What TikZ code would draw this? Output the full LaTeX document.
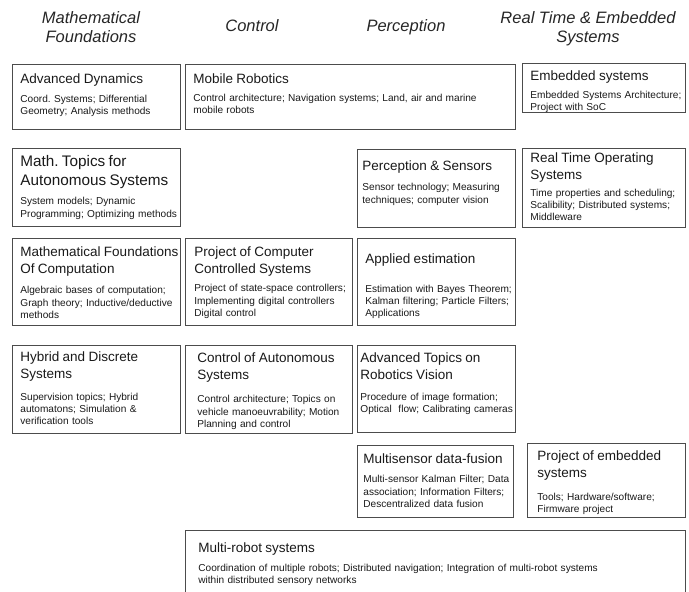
\documentclass[tikz,border=0pt]{standalone}
\usepackage{fontspec}
\setmainfont{Liberation Sans}
\usetikzlibrary{positioning}
\frenchspacing

\newcommand{\ttl}{\fontsize{13.5}{17}\selectfont}
\newcommand{\bigttl}{\fontsize{15.3}{19}\selectfont}
\newcommand{\bdy}{\fontsize{10.1}{12.3}\selectfont}
% \course[pad]{title}{gap}{body}
\newcommand{\course}[4][8pt]{\leftskip=#1\relax\rightskip=-20pt plus 1fil\relax
  {\ttl #2\par}\vspace{#3}{\bdy #4\par}}

\tikzset{
  course/.style={draw=black!70, line width=0.8pt, anchor=north west, inner sep=0pt, align=left, text=black!90},
  head/.style={font=\fontsize{16.5}{19.5}\selectfont\itshape, align=center, anchor=base, text=black!85},
}

\begin{document}
\begin{tikzpicture}[x=1pt, y=-1pt]
\useasboundingbox (0,0) rectangle (689,592);
\clip (0,0) rectangle (689,592);

% column headings
\node[head] (hmath) at (91,42.5) {Mathematical\\Foundations};
\node[head] (hctrl) at (252,31) {Control};
\node[head] (hperc) at (406,31) {Perception};
\node[head] (hrt) at (588,42.5) {Real Time \& Embedded\\Systems};

% first row
\node[course, text width=168pt, text height=19pt, text depth=46pt] (dyn) at (12,64)
  {\course{Advanced Dynamics}{6.5pt}{Coord. Systems; Differential\\Geometry; Analysis methods}};
\node[course, text width=330pt, text height=19.5pt, text depth=45.5pt] (mobile) at (185,64)
  {\course{Mobile Robotics}{5pt}{Control architecture; Navigation systems; Land, air and marine\\mobile robots}};
\node[course, text width=163pt, text height=17pt, text depth=32pt] (embed) at (522,63)
  {\course{Embedded systems}{5.5pt}{Embedded Systems Architecture;\\Project with SoC}};

% second row
\node[course, text width=168pt, text height=18pt, text depth=60pt] (mtopics) at (12,148)
  {\leftskip=8pt\rightskip=-20pt plus 1fil{\bigttl Math. Topics for\\Autonomous Systems\par}\vspace{7pt}{\bdy System models; Dynamic\\Programming; Optimizing methods\par}};
\node[course, text width=158pt, text height=21pt, text depth=57pt] (percep) at (357,149)
  {\course[5pt]{Perception \& Sensors}{8pt}{Sensor technology; Measuring\\techniques; computer vision}};
\node[course, text width=163pt, text height=14pt, text depth=65pt] (rtos) at (522,148)
  {\course{Real Time Operating\\Systems}{4.5pt}{Time properties and scheduling;\\Scalibility; Distributed systems;\\Middleware}};

% third row
\node[course, text width=168pt, text height=18pt, text depth=69pt] (mfc) at (12,238)
  {\course{Mathematical Foundations\\Of Computation}{8pt}{Algebraic bases of computation;\\Graph theory; Inductive/deductive\\methods}};
\node[course, text width=167pt, text height=18pt, text depth=69pt] (pccs) at (185,238)
  {\course[9pt]{Project of Computer\\Controlled Systems}{6pt}{Project of state-space controllers;\\Implementing digital controllers\\Digital control}};
\node[course, text width=158pt, text height=25pt, text depth=62pt] (est) at (357,238)
  {\course[8pt]{Applied estimation}{16.5pt}{Estimation with Bayes Theorem;\\Kalman filtering; Particle Filters;\\Applications}};

% fourth row
\node[course, text width=168pt, text height=16pt, text depth=72pt] (hybrid) at (12,345)
  {\course{Hybrid and Discrete\\Systems}{9.5pt}{Supervision topics; Hybrid\\automatons; Simulation \&\\verification tools}};
\node[course, text width=167pt, text height=17pt, text depth=71pt] (cas) at (185,345)
  {\course[12pt]{Control of Autonomous\\Systems}{11pt}{Control architecture; Topics on\\vehicle manoeuvrability; Motion\\Planning and control}};
\node[course, text width=158pt, text height=17pt, text depth=70pt] (vision) at (357,345)
  {\course[3pt]{Advanced Topics on\\Robotics Vision}{8.5pt}{Procedure of image formation;\\Optical\ \ flow; Calibrating cameras}};

% fifth row
\node[course, text width=156pt, text height=18.5pt, text depth=53.5pt] (fusion) at (357,445)
  {\course[6pt]{Multisensor data-fusion}{6.5pt}{Multi-sensor Kalman Filter; Data\\association; Information Filters;\\Descentralized data fusion}};
\node[course, text width=158pt, text height=17pt, text depth=57pt] (pembed) at (527,443)
  {\course[10pt]{Project of embedded\\systems}{10.5pt}{Tools; Hardware/software;\\Firmware project}};

% last row
\node[course, text width=500pt, text height=22pt, text depth=50pt] (multi) at (185,530)
  {\course[13pt]{Multi-robot systems}{6.5pt}{Coordination of multiple robots; Distributed navigation; Integration of multi-robot systems\\within distributed sensory networks}};
\end{tikzpicture}
\end{document}
